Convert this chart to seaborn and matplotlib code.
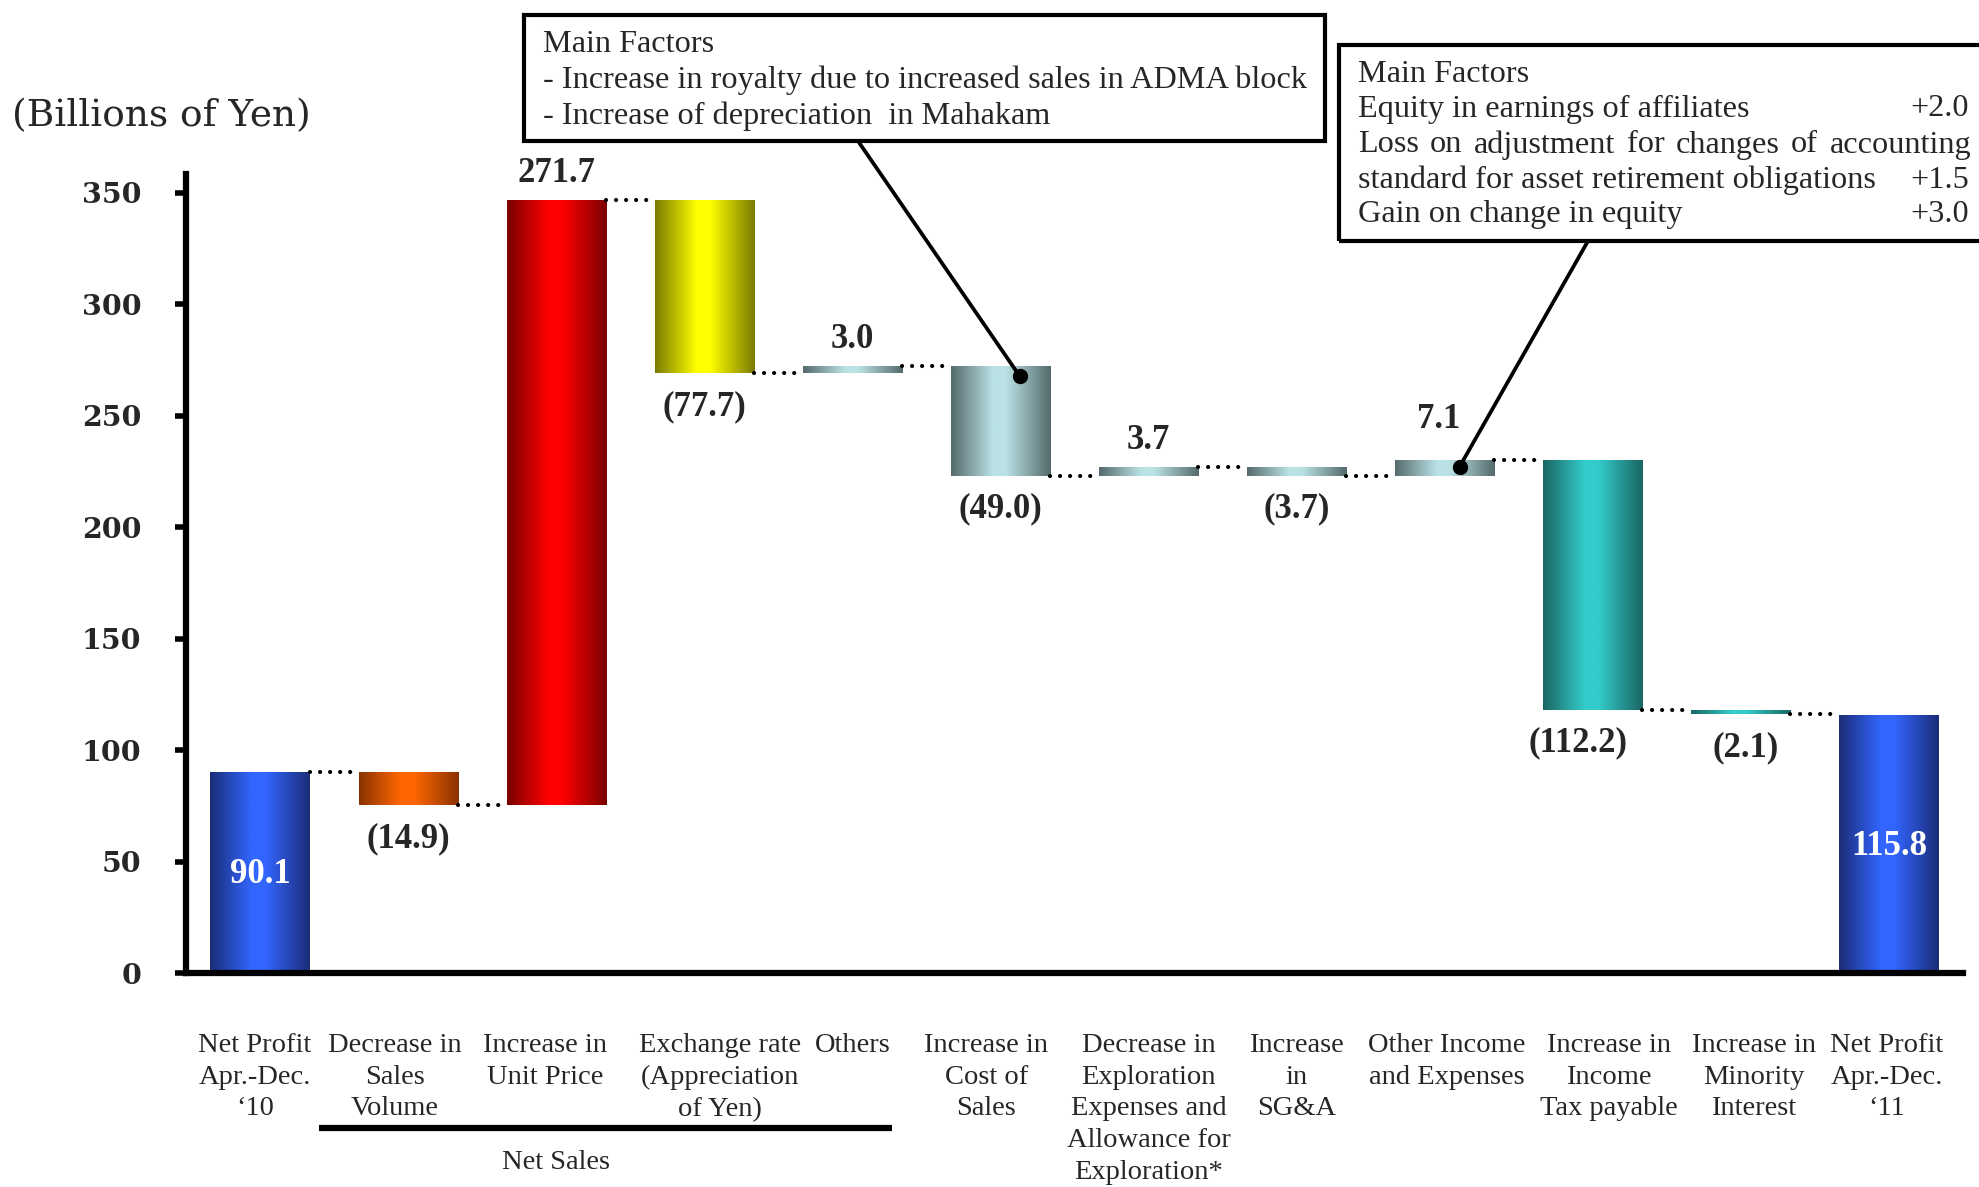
import numpy as np
import pandas as pd
import matplotlib
matplotlib.use("Agg")
import matplotlib.pyplot as plt
import matplotlib.transforms as mtransforms
import seaborn as sns
from matplotlib.colors import LinearSegmentedColormap
from matplotlib.patches import Rectangle

# ---- data (billions of yen) ----
categories = [
    "Net Profit\nApr.-Dec.\n\u201810",
    "Decrease in\nSales\nVolume",
    "Increase in\nUnit Price",
    "Exchange rate\n(Appreciation\nof Yen)",
    "Others",
    "Increase in\nCost of\nSales",
    "Decrease in\nExploration\nExpenses and\nAllowance for\nExploration*",
    "Increase\nin\nSG&A",
    "Other Income\nand Expenses",
    "Increase in\nIncome\nTax payable",
    "Increase in\nMinority\nInterest",
    "Net Profit\nApr.-Dec.\n\u201811",
]
changes = [90.1, -14.9, 271.7, -77.7, 3.0, -49.0, 3.7, -3.7, 7.1, -112.2, -2.1, 115.8]
value_labels = ["90.1", "(14.9)", "271.7", "(77.7)", "3.0", "(49.0)",
                "3.7", "(3.7)", "7.1", "(112.2)", "(2.1)", "115.8"]
# gradient (edge colour, centre colour) for each bar
bar_shades = [
    ("#1b2d78", "#3366ff"),
    ("#8a3300", "#ff6600"),
    ("#7a0000", "#ff0000"),
    ("#7a7a00", "#ffff00"),
    ("#556a6c", "#bae2e5"),
    ("#556a6c", "#bae2e5"),
    ("#556a6c", "#bae2e5"),
    ("#556a6c", "#bae2e5"),
    ("#556a6c", "#bae2e5"),
    ("#1a6662", "#33cccc"),
    ("#1a6662", "#33cccc"),
    ("#1b2d78", "#3366ff"),
]
box1_lines = ["Main Factors",
              "- Increase in royalty due to increased sales in ADMA block",
              "- Increase of depreciation  in Mahakam"]
box2_lines = ["Main Factors",
              "Equity in earnings of affiliates",
              "Loss on adjustment for changes of accounting",
              "standard for asset retirement obligations",
              "Gain on change in equity"]
box2_values = ["+2.0", "", "+1.5", "+3.0"]

# ---- waterfall geometry ----
bottoms, spans, levels = [0.0], [changes[0]], [changes[0]]
running = changes[0]
for v in changes[1:-1]:
    new = running + v
    bottoms.append(min(running, new))
    spans.append(abs(v))
    running = new
    levels.append(running)
bottoms.append(0.0)
spans.append(changes[-1])

df = pd.DataFrame({"item": categories, "span": spans})

sns.set_theme(style="white")
plt.rcParams["font.family"] = ["Liberation Serif", "DejaVu Serif"]

W, H = 1979, 1187
fig = plt.figure(figsize=(W / 100, H / 100), dpi=100)
ax = fig.add_axes([186 / W, 1 - 973 / H, (1963 - 186) / W, (973 - 174) / H])

bar_w = 0.67
sns.barplot(data=df, x="item", y="span", order=categories, bottom=bottoms,
            width=bar_w, color="#888888", errorbar=None, ax=ax,
            linewidth=0, zorder=2)

# gradient fills
grad = np.linspace(0, 1, 256)[np.newaxis, :]
for patch, (dark, light) in zip(ax.patches, bar_shades):
    cmap = LinearSegmentedColormap.from_list(
        "g", [(0, dark), (0.42, light), (0.55, light), (1, dark)])
    x0, y0 = patch.get_x(), patch.get_y()
    w, h = patch.get_width(), patch.get_height()
    im = ax.imshow(grad, cmap=cmap, extent=[x0, x0 + w, y0, y0 + h],
                   aspect="auto", interpolation="bilinear", zorder=2)
    im.set_clip_path(patch)
    patch.set_facecolor("none")

# dotted connectors
for i, lvl in enumerate(levels):
    ax.plot([i + bar_w / 2, i + 1 - bar_w / 2], [lvl, lvl], color="black",
            lw=3.0, linestyle=(0, (0.01, 2.4)), dash_capstyle="round", zorder=3)

# value labels
label_dx = {8: -0.04, 9: -0.1, 10: 0.03}
label_dy = {8: 6}
for i, (v, txt) in enumerate(zip(changes, value_labels)):
    x = i + label_dx.get(i, 0)
    if i in (0, len(changes) - 1):
        ax.text(x, v / 2 - 1, txt, ha="center", va="center", color="white",
                fontsize=25, fontweight="bold", zorder=4)
    elif v < 0:
        ax.text(x, bottoms[i] - 15, txt, ha="center", va="center",
                fontsize=25, fontweight="bold", zorder=4)
    else:
        ax.text(x, bottoms[i] + spans[i] + 12 + label_dy.get(i, 0), txt,
                ha="center", va="center", fontsize=25, fontweight="bold",
                zorder=4)

# axes styling
ax.set_xlim(-0.5, 11.5)
ax.set_ylim(0, 358.5)
ax.set_yticks(range(0, 351, 50))
ax.set_yticklabels([str(t) for t in range(0, 351, 50)],
                   fontfamily="DejaVu Serif", fontweight="bold", fontsize=20.5)
ax.tick_params(axis="y", length=8, width=4, pad=24, left=True, color="black")
ax.tick_params(axis="x", length=0, pad=43, labelsize=20.5)
# small horizontal nudges of the category captions (pixels)
xlabel_nudge = [-5, -13, -11, 16, 0, -14, 0, 0, 2, 16, 13, -2]
for lbl, dx in zip(ax.get_xticklabels(), xlabel_nudge):
    lbl.set_linespacing(1.36)
    lbl.set_transform(lbl.get_transform()
                      + mtransforms.ScaledTranslation(dx / 100, 0,
                                                      fig.dpi_scale_trans))
ax.set_xlabel("")
ax.set_ylabel("")
for side in ("top", "right"):
    ax.spines[side].set_visible(False)
for side in ("left", "bottom"):
    ax.spines[side].set_linewidth(4.5)
    ax.spines[side].set_color("black")

# Net Sales bracket
blend = mtransforms.blended_transform_factory(ax.transData, ax.transAxes)
ax.plot([0.40, 4.27], [-0.194, -0.194], color="black", lw=4.5,
        transform=blend, clip_on=False, solid_capstyle="butt")
ax.text(2.0, -0.237, "Net Sales", transform=blend, ha="center", va="center",
        fontsize=20.5)

fig.text(161 / W, 1 - 116 / H, "(Billions of Yen)", ha="center", va="center",
         fontsize=27, fontfamily="DejaVu Serif")

# annotation boxes
fs_box = 23.2
fig.add_artist(Rectangle((524 / W, 1 - 141 / H), (1325 - 524) / W, 126 / H,
                         transform=fig.transFigure, fill=False, lw=3,
                         edgecolor="black"))
for line, yy in zip(box1_lines, [45, 80, 116]):
    fig.text(543 / W, 1 - yy / H, line, ha="left", va="center", fontsize=fs_box)

fig.add_artist(Rectangle((1339 / W, 1 - 241 / H), (1995 - 1339) / W, 196 / H,
                         transform=fig.transFigure, fill=False, lw=3,
                         edgecolor="black", clip_on=False))
box2_y = [74, 109, 145, 180, 215]
for k, (line, yy) in enumerate(zip(box2_lines, box2_y)):
    if k == 2:
        continue
    fig.text(1358 / W, 1 - yy / H, line, ha="left", va="center", fontsize=fs_box)
for val, yy in zip(box2_values, box2_y[1:]):
    if val:
        fig.text(1969 / W, 1 - yy / H, val, ha="right", va="center",
                 fontsize=fs_box)

# justified line in the second box
fig.canvas.draw()
renderer = fig.canvas.get_renderer()
words = box2_lines[2].split()
word_texts = [fig.text(0, 1 - box2_y[2] / H, wd, ha="left", va="center",
                       fontsize=fs_box) for wd in words]
widths = [t.get_window_extent(renderer).width for t in word_texts]
gap = (1971 - 1358 - sum(widths)) / (len(words) - 1)
xpos = 1358
for t, wd in zip(word_texts, widths):
    t.set_x(xpos / W)
    xpos += wd + gap

# leader lines to the bars
for (px, py), (dx, dy) in [((858, 141), (5.13, 267.8)),
                           ((1588, 241), (8.10, 227.1))]:
    ax.annotate("", xy=(dx, dy), xycoords="data",
                xytext=(px / W, 1 - py / H), textcoords="figure fraction",
                arrowprops=dict(arrowstyle="-", lw=2.7, color="black",
                                shrinkA=0, shrinkB=0), zorder=5)
    ax.plot(dx, dy, "o", color="black", ms=10, zorder=6)

fig.savefig("out.png", dpi=100)
